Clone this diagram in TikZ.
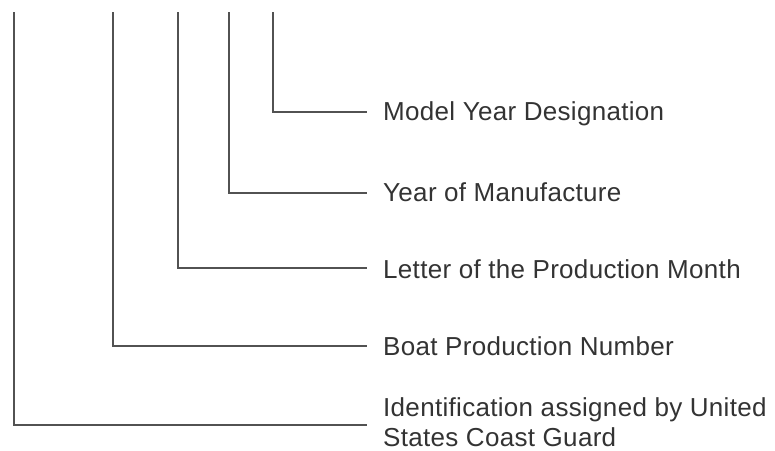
\documentclass[tikz,border=0pt]{standalone}
\usepackage{fontspec}
\setmainfont{Liberation Sans}
\newfontfamily\lblfont[LetterSpace=1.2]{Liberation Sans}
\begin{document}
\begin{tikzpicture}[x=1pt,y=-1pt,
  conn/.style={draw=black!68, line width=2pt},
  lbl/.style={anchor=base west, inner sep=0pt, text=black!80, font=\lblfont\fontsize{26}{30}\selectfont, align=left}]
\useasboundingbox (0,0) rectangle (775,450);
% top ends of the leads
\coordinate (t1) at (14,12);
\coordinate (t2) at (113,12);
\coordinate (t3) at (178,12);
\coordinate (t4) at (229,12);
\coordinate (t5) at (273,12);
% labels
\node[lbl] (l5) at (383,120) {Model Year Designation};
\node[lbl] (l4) at (383,201) {Year of Manufacture};
\node[lbl] (l3) at (383,278) {Letter of the Production Month};
\node[lbl] (l2) at (383,355) {Boat Production Number};
\node[lbl] (l1) at (383,446) {Identification assigned by United\\States Coast Guard};
% free ends of the connectors
\coordinate (e5) at (367,112);
\coordinate (e4) at (367,193);
\coordinate (e3) at (367,268);
\coordinate (e2) at (367,346);
\coordinate (e1) at (367,425);
\draw[conn] (t5) |- (e5);
\draw[conn] (t4) |- (e4);
\draw[conn] (t3) |- (e3);
\draw[conn] (t2) |- (e2);
\draw[conn] (t1) |- (e1);
\end{tikzpicture}
\end{document}
